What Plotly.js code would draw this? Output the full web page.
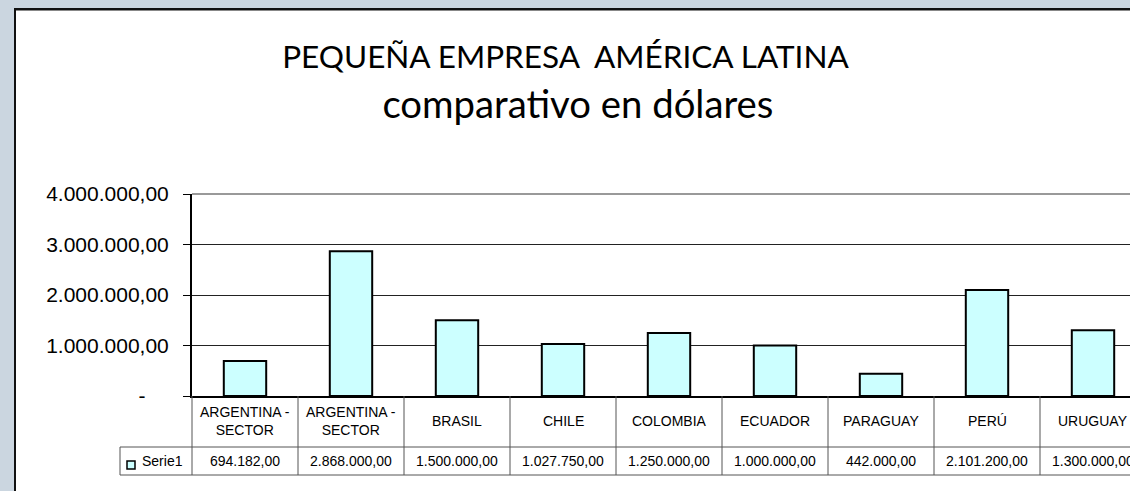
<!DOCTYPE html>
<html>
<head>
<meta charset="utf-8">
<script src="https://cdn.plot.ly/plotly-3.0.1.min.js"></script>
<style>
  html, body { margin:0; padding:0; width:1130px; height:491px; overflow:hidden; background:#cbd6e0; }
  #frame { position:absolute; left:14px; top:8px; width:1300px; height:600px; background:#ffffff;
           border-top:2px solid #111; border-left:2px solid #111; box-shadow: inset 0 1px 0 #888; }
  #chart { position:absolute; left:0; top:0; width:1200px; height:491px; }
</style>
</head>
<body>
<div id="frame"></div>
<div id="chart"></div>
<script>
const categories = ["ARGENTINA -<br>SECTOR", "ARGENTINA -<br>SECTOR", "BRASIL", "CHILE", "COLOMBIA", "ECUADOR", "PARAGUAY", "PERÚ", "URUGUAY"];
const values = [694182, 2868000, 1500000, 1027750, 1250000, 1000000, 442000, 2101200, 1300000];
const seriesName = "Serie1";
const yTicks = [0, 1000000, 2000000, 3000000, 4000000];
const titleLine1 = "PEQUEÑA EMPRESA\u00a0 AMÉRICA LATINA";
const titleLine2 = "comparativo en dólares";

function fmt(v) {
  const parts = v.toFixed(2).split(".");
  const intPart = parts[0].replace(/\B(?=(\d{3})+(?!\d))/g, ".");
  return intPart + "," + parts[1];
}

const W = 1200, H = 491;
const M = {l:192, r:54, t:194, b:95};
const PW = W - M.l - M.r, PH = H - M.t - M.b;
const pxX = x => (x - M.l) / PW;
const pxY = y => (H - M.b - y) / PH;

const n = categories.length;
const idx = categories.map((_, i) => i);

const lineColor = "#555555";
const tableFont = {family:"Liberation Sans, Arial, sans-serif", size:14, color:"#000"};
const shapes = [];
for (let i = 0; i <= n; i++) {
  const xp = i / n;
  shapes.push({type:"line", xref:"paper", yref:"paper", x0:xp, x1:xp, y0:0, y1:pxY(475), line:{color:lineColor, width:1}});
}
shapes.push({type:"line", xref:"paper", yref:"paper", x0:pxX(120), x1:1, y0:pxY(447), y1:pxY(447), line:{color:lineColor, width:1}});
shapes.push({type:"line", xref:"paper", yref:"paper", x0:pxX(120), x1:1, y0:pxY(475), y1:pxY(475), line:{color:lineColor, width:1}});
shapes.push({type:"line", xref:"paper", yref:"paper", x0:pxX(120), x1:pxX(120), y0:pxY(447), y1:pxY(475), line:{color:lineColor, width:1}});
shapes.push({type:"line", xref:"paper", yref:"paper", x0:0, x1:1, y0:1, y1:1, line:{color:"#999999", width:2}});
shapes.push({type:"rect", xref:"paper", yref:"paper", x0:pxX(127), x1:pxX(135), y0:pxY(469), y1:pxY(461), fillcolor:"#ccffff", line:{color:"#000", width:1.5}});

const annotations = [];
categories.forEach((c, i) => {
  annotations.push({x:i, xref:"x", y:pxY(421), yref:"paper", text:c, showarrow:false, xanchor:"center", yanchor:"middle", font:tableFont});
  annotations.push({x:i, xref:"x", y:pxY(461), yref:"paper", text:fmt(values[i]), showarrow:false, xanchor:"center", yanchor:"middle", font:tableFont});
});
annotations.push({x:pxX(140), xref:"paper", y:pxY(461), yref:"paper", text:seriesName, showarrow:false, xanchor:"left", yanchor:"middle", font:tableFont});

const trace = {
  type:"bar", x:idx, y:values, name:seriesName, width:0.4,
  marker:{color:"#ccffff", line:{color:"#000000", width:2}},
  hoverinfo:"skip"
};

const layout = {
  width:W, height:H,
  margin:M,
  paper_bgcolor:"rgba(0,0,0,0)", plot_bgcolor:"rgba(0,0,0,0)",
  showlegend:false,
  title:{text:'<span style="font-size:31.5px">' + titleLine1 + '\u00a0\u00a0</span><br>\u00a0' + titleLine2,
    x:573/W, xref:"container", xanchor:"center", y:1-68/H, yref:"container", yanchor:"top",
    font:{family:"Lato, sans-serif", size:38.3, color:"#000"}},
  xaxis:{range:[-0.5, n-0.5], showticklabels:false, showgrid:false, zeroline:false, showline:true, linecolor:"#000", linewidth:2, ticks:"", fixedrange:true},
  yaxis:{range:[0, 4000000], tickvals:yTicks, ticktext:yTicks.map(v => v === 0 ? "-\u00a0\u00a0\u00a0\u00a0" : fmt(v)),
    showgrid:true, gridcolor:"#222222", gridwidth:1, zeroline:false, showline:true, linecolor:"#000", linewidth:2,
    ticks:"outside", ticklen:7, tickcolor:"#000", tickwidth:1, ticklabelstandoff:10,
    tickfont:{family:"Liberation Sans, Arial, sans-serif", size:21, color:"#000"}, fixedrange:true},
  shapes:shapes, annotations:annotations
};

Plotly.newPlot("chart", [trace], layout, {staticPlot:true, displayModeBar:false});
</script>
</body>
</html>
